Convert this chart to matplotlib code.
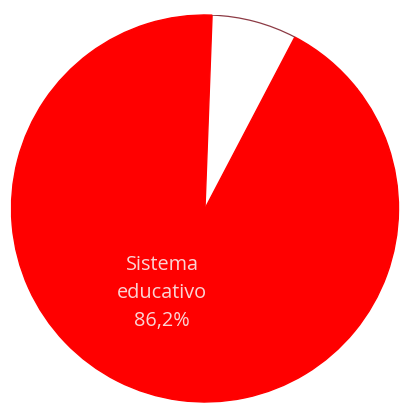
import matplotlib
matplotlib.use("Agg")
import matplotlib.pyplot as plt
from matplotlib.patches import Arc

# Data (clockwise from near 12 o'clock)
categories = ["Otros (blanco)", "Otros", "Sistema educativo"]
values = [7.1, 6.7, 86.2]
colors = ["#FFFFFF", "#FF0000", "#FF0000"]
labels_shown = ["", "", "Sistema\neducativo\n86,2%"]

fig = plt.figure(figsize=(4.0, 4.05), dpi=100)
ax = fig.add_axes([0.02875, 0.0074, 0.9675, 0.9556])

wedges, texts = ax.pie(values, colors=colors, startangle=87.9, counterclock=False,
                       labels=labels_shown, labeldistance=0.49, radius=1.0,
                       wedgeprops=dict(linewidth=0),
                       textprops=dict(color="#FAD4D4", fontsize=14.3,
                                      family=["Open Sans", "DejaVu Sans"],
                                      linespacing=1.55))
for w, c in zip(wedges, colors):
    if c != "#FFFFFF":
        w.set_edgecolor(c)
        w.set_linewidth(1.0)
    else:
        ax.add_patch(Arc((0, 0), 2.0, 2.0, theta1=w.theta1, theta2=w.theta2,
                         color="#8C3A44", linewidth=0.9))
for t in texts:
    t.set_horizontalalignment("center")
    t.set_verticalalignment("center")
    t.set_multialignment("center")

ax.set_xlim(-1, 1)
ax.set_ylim(-1, 1)
ax.set_aspect("equal")
ax.axis("off")

fig.savefig("out.png", dpi=100)
